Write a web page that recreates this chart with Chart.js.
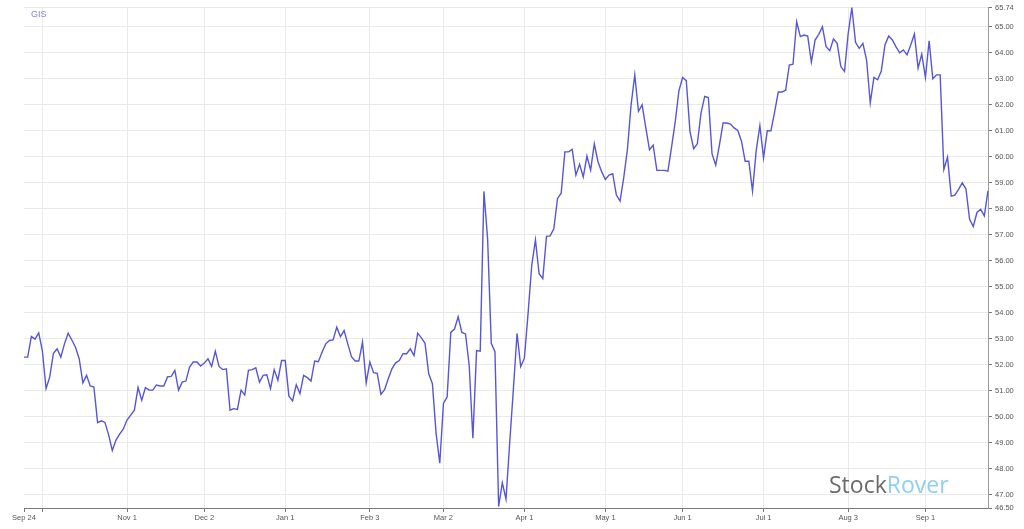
<!DOCTYPE html>
<html lang="en">
<head>
    <meta charset="UTF-8">
    <title>GIS</title>
    <style>
        body { margin: 0; background: #fff; }
        #wrap { position: relative; width: 1024px; height: 529px; }
        #brand {
            position: absolute; left: 829px; top: 473px;
            font: 23px/23px "Open Sans", sans-serif; white-space: nowrap;
        }
        #brand .a { color: #6b6b6b; }
        #brand .b { color: #8fd0f2; }
    </style>
</head>
<body>

<div id="wrap">
    <canvas id="myChart" width="1024" height="529"></canvas>
    <div id="brand"><span class="a">Stock</span><span class="b">Rover</span></div>
</div>

<script src="https://cdn.jsdelivr.net/npm/chart.js"></script>
<script>
    // first and last day shown, one point per weekday
    const startDay = [2019, 8, 24];
    const endDay = [2020, 8, 24];

    const symbol = 'GIS';

    // closing prices, Sep 24 2019 .. Sep 24 2020
    const prices = [
        52.30, 52.30, 53.09, 52.99, 53.23, 52.53, 51.09, 51.54, 52.45, 52.62,
        52.30, 52.81, 53.22, 52.96, 52.68, 52.24, 51.31, 51.60, 51.19, 51.15,
        49.78, 49.85, 49.79, 49.31, 48.71, 49.11, 49.34, 49.54, 49.88, 50.07,
        50.26, 51.13, 50.64, 51.13, 51.03, 51.03, 51.23, 51.19, 51.19, 51.54,
        51.56, 51.79, 51.03, 51.34, 51.38, 51.92, 52.11, 52.11, 51.96, 52.07,
        52.24, 51.94, 52.53, 51.94, 51.82, 51.85, 50.26, 50.32, 50.29, 51.03,
        50.84, 51.79, 51.82, 51.89, 51.34, 51.60, 51.62, 51.09, 51.82, 51.41,
        52.17, 52.17, 50.80, 50.62, 51.24, 50.90, 51.60, 51.51, 51.38, 52.15,
        52.12, 52.49, 52.81, 52.94, 52.96, 53.45, 53.09, 53.32, 52.81, 52.32,
        52.15, 52.15, 52.88, 51.31, 52.11, 51.70, 51.68, 50.87, 51.05, 51.47,
        51.85, 52.08, 52.17, 52.43, 52.43, 52.62, 52.36, 53.22, 53.04, 52.83,
        51.66, 51.28, 49.37, 48.22, 50.52, 50.77, 53.25, 53.38, 53.85, 53.25,
        53.19, 51.98, 49.18, 52.55, 52.53, 58.67, 56.85, 52.83, 52.51, 46.56,
        47.47, 46.84, 49.00, 51.05, 53.21, 51.94, 52.26, 53.98, 55.83, 56.81,
        55.51, 55.32, 56.94, 56.96, 57.23, 58.40, 58.60, 60.19, 60.19, 60.28,
        59.30, 59.71, 59.23, 60.03, 59.49, 60.50, 59.81, 59.43, 59.13, 59.30,
        59.35, 58.53, 58.30, 59.20, 60.28, 62.00, 63.15, 61.75, 62.00, 61.11,
        60.27, 60.45, 59.48, 59.48, 59.48, 59.45, 60.37, 61.36, 62.54, 63.05,
        62.93, 60.98, 60.31, 60.50, 61.68, 62.32, 62.28, 60.11, 59.68, 60.45,
        61.30, 61.30, 61.26, 61.11, 61.01, 60.60, 59.83, 59.83, 58.68, 60.24,
        61.20, 59.96, 61.00, 61.00, 61.72, 62.49, 62.49, 62.56, 63.53, 63.56,
        65.19, 64.62, 64.68, 64.64, 63.64, 64.49, 64.71, 65.00, 64.23, 64.08,
        64.53, 64.36, 63.47, 63.28, 64.74, 65.73, 64.40, 64.17, 64.36, 63.72,
        62.07, 63.05, 62.96, 63.30, 64.30, 64.64, 64.49, 64.23, 64.00, 64.11,
        63.92, 64.30, 64.72, 63.41, 63.95, 63.05, 64.46, 63.00, 63.15, 63.15,
        59.51, 59.99, 58.49, 58.53, 58.75, 59.00, 58.77, 57.60, 57.32, 57.86,
        57.98, 57.73, 58.69
    ];

    // dates that get a grid line; Oct 1 has no text (it would sit on Sep 24)
    const xTicks = ['Sep 24', 'Oct 1', 'Nov 1', 'Dec 2', 'Jan 1', 'Feb 3', 'Mar 2',
        'Apr 1', 'May 1', 'Jun 1', 'Jul 1', 'Aug 3', 'Sep 1'];
    const xHidden = ['Oct 1'];

    const yTicks = [46.50, 47, 48, 49, 50, 51, 52, 53, 54, 55, 56, 57, 58, 59,
        60, 61, 62, 63, 64, 65, 65.74];
    const yMin = 46.50;
    const yMax = 65.74;

    const months = ['Jan', 'Feb', 'Mar', 'Apr', 'May', 'Jun', 'Jul', 'Aug', 'Sep', 'Oct', 'Nov', 'Dec'];

    function weekdays() {
        let out = [];
        let d = new Date(Date.UTC(startDay[0], startDay[1], startDay[2]));
        let end = new Date(Date.UTC(endDay[0], endDay[1], endDay[2]));
        while (d <= end) {
            let wd = d.getUTCDay();
            if (wd !== 0 && wd !== 6) {
                out.push(months[d.getUTCMonth()] + ' ' + d.getUTCDate());
            }
            d.setUTCDate(d.getUTCDate() + 1);
        }
        return out;
    }

    const symbolLabel = {
        id: 'symbolLabel',
        afterDraw(chart) {
            let ctx = chart.ctx;
            ctx.save();
            ctx.font = '9px "Liberation Sans", Arial, sans-serif';
            ctx.fillStyle = '#7f7fe6';
            ctx.textBaseline = 'middle';
            ctx.fillText(chart.data.datasets[0].label, chart.chartArea.left + 7, 15);
            ctx.restore();
        }
    };

    function init() {
        let labels = weekdays();
        let tickIdx = xTicks.map(t => labels.indexOf(t));
        let tickFont = {family: '"Liberation Sans", Arial, sans-serif', size: 7.5};

        let ctx = document.getElementById('myChart').getContext('2d');
        new Chart(ctx, {
            type: 'line',
            data: {
                labels: labels,
                datasets: [{
                    label: symbol,
                    data: prices,
                    borderColor: '#5656d8',
                    borderWidth: 1.4,
                    pointRadius: 0,
                    tension: 0,
                    fill: false
                }]
            },
            options: {
                responsive: false,
                animation: false,
                layout: {padding: {left: 24, top: 6, right: 0, bottom: 0}},
                plugins: {legend: {display: false}, tooltip: {enabled: false}},
                scales: {
                    x: {
                        type: 'category',
                        offset: false,
                        afterBuildTicks: axis => {
                            axis.ticks = axis.ticks.filter(t => tickIdx.includes(t.value));
                        },
                        afterFit: axis => { axis.height = 21; },
                        grid: {
                            color: c => (c.tick && c.tick.value === 0) ? 'rgba(0,0,0,0)' : '#e9e9e9',
                            tickColor: '#777',
                            tickLength: 4
                        },
                        border: {color: '#7a7a7a', width: 1},
                        ticks: {
                            autoSkip: false,
                            maxRotation: 0,
                            padding: 1,
                            color: '#555',
                            font: tickFont,
                            callback: function (value) {
                                let s = this.getLabelForValue(value);
                                return xHidden.includes(s) ? '' : s;
                            }
                        }
                    },
                    y: {
                        position: 'right',
                        min: yMin,
                        max: yMax,
                        afterBuildTicks: axis => {
                            axis.ticks = yTicks.map(v => ({value: v}));
                        },
                        afterFit: axis => { axis.width = 36; },
                        grid: {color: '#e9e9e9', tickColor: '#777', tickLength: 4},
                        border: {color: '#999', width: 1},
                        ticks: {
                            padding: 3,
                            color: '#555',
                            font: tickFont,
                            callback: v => v.toFixed(2)
                        }
                    }
                }
            },
            plugins: [symbolLabel]
        });
    }

    document.addEventListener('DOMContentLoaded', init);
</script>

</body>
</html>
